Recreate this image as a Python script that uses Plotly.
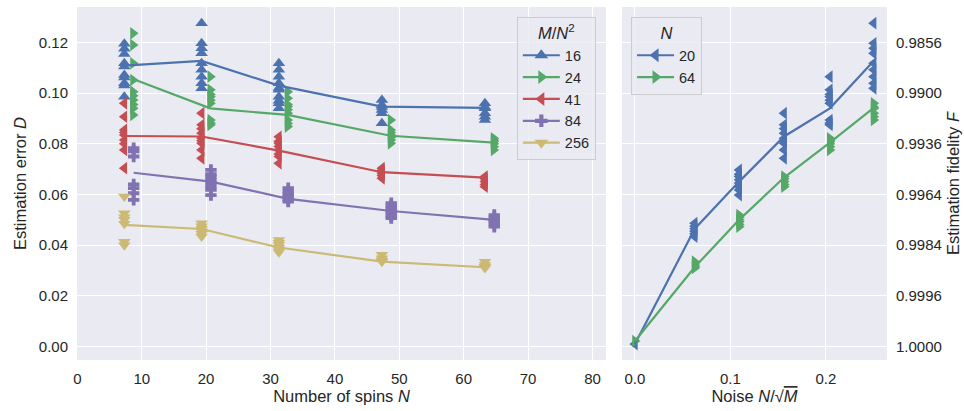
import plotly.graph_objects as go

# ---------------- data ----------------
N_values = [8, 20, 32, 48, 64]
ratio_labels = ["16", "24", "41", "84", "256"]
# noise N/sqrt(M) for M/N^2 = inf, 256, 84, 41, 24, 16
noise_values = [0.0, 0.0625, 0.1091, 0.1562, 0.2041, 0.25]

runs_16 = [
    [0.1195, 0.1175, 0.1155, 0.1118, 0.1105, 0.1072, 0.1062, 0.1039, 0.1030, 0.0986],
    [0.1276, 0.1197, 0.1177, 0.1157, 0.1118, 0.1092, 0.1065, 0.1039, 0.1019],
    [0.1118, 0.1092, 0.1065, 0.1039, 0.1020, 0.1013, 0.0986, 0.0970, 0.0960, 0.0940],
    [0.0973, 0.0953, 0.0945, 0.0934, 0.0921, 0.0881],
    [0.0960, 0.0945, 0.0940, 0.0921, 0.0907, 0.0894],
]
runs_24 = [
    [0.1236, 0.1190, 0.1118, 0.1052, 0.1006, 0.0990, 0.0973, 0.0955, 0.0940, 0.0914],
    [0.1065, 0.1013, 0.0995, 0.0986, 0.0972, 0.0960, 0.0894, 0.0882, 0.0875],
    [0.1006, 0.0980, 0.0955, 0.0947, 0.0935, 0.0921, 0.0894, 0.0880, 0.0868],
    [0.0894, 0.0855, 0.0845, 0.0835, 0.0825, 0.0815, 0.0802],
    [0.0822, 0.0815, 0.0809, 0.0800, 0.0789, 0.0776],
]
runs_41 = [
    [0.0960, 0.0907, 0.0855, 0.0845, 0.0835, 0.0815, 0.0800, 0.0776, 0.0704],
    [0.0921, 0.0875, 0.0860, 0.0842, 0.0822, 0.0812, 0.0802, 0.0776, 0.0743],
    [0.0828, 0.0810, 0.0802, 0.0790, 0.0776, 0.0760, 0.0750, 0.0723],
    [0.0704, 0.0695, 0.0684, 0.0675, 0.0664],
    [0.0671, 0.0662, 0.0651, 0.0640, 0.0631],
]
runs_84 = [
    [0.0783, 0.0770, 0.0750, 0.0640, 0.0625, 0.0605, 0.0579],
    [0.0697, 0.0680, 0.0671, 0.0658, 0.0645, 0.0630, 0.0618, 0.0598],
    [0.0625, 0.0611, 0.0600, 0.0592, 0.0580, 0.0572],
    [0.0566, 0.0555, 0.0546, 0.0536, 0.0526, 0.0515, 0.0507],
    [0.0519, 0.0510, 0.0500, 0.0493, 0.0482, 0.0473],
]
runs_256 = [
    [0.0592, 0.0526, 0.0510, 0.0500, 0.0485, 0.0414, 0.0400],
    [0.0487, 0.0475, 0.0465, 0.0455, 0.0445, 0.0434],
    [0.0421, 0.0410, 0.0401, 0.0390, 0.0381, 0.0372],
    [0.0362, 0.0349, 0.0340, 0.0335],
    [0.0335, 0.0322, 0.0315, 0.0310],
]

mean_16 = [0.1109, 0.1127, 0.1030, 0.0947, 0.0942]
mean_24 = [0.1056, 0.0940, 0.0914, 0.0832, 0.0805]
mean_41 = [0.0831, 0.0829, 0.0773, 0.0688, 0.0667]
mean_84 = [0.0686, 0.0651, 0.0583, 0.0535, 0.0500]
mean_256 = [0.0480, 0.0464, 0.0391, 0.0335, 0.0313]

zero_noise_N20 = 0.0010
zero_noise_N64 = 0.0022

y_ticks = [0.0, 0.02, 0.04, 0.06, 0.08, 0.10, 0.12]
y_tick_labels = ["0.00", "0.02", "0.04", "0.06", "0.08", "0.10", "0.12"]
fidelity_labels = ["1.0000", "0.9996", "0.9984", "0.9964", "0.9936", "0.9900", "0.9856"]
x_ticks_left = [0, 10, 20, 30, 40, 50, 60, 70, 80]
x_ticks_right = [0.0, 0.1, 0.2]
x_tick_labels_right = ["0.0", "0.1", "0.2"]

# ---------------- style ----------------
FONT = "Liberation Sans, Arial, sans-serif"
TXT = "#262626"
BG = "#EAEAF2"
colors = ["#4C72B0", "#55A868", "#C44E52", "#8172B2", "#CCB974"]
symbols = ["triangle-up", "triangle-right", "triangle-left", "cross", "triangle-down"]
msizes = [11, 11, 11, 9.5, 11]
offsets = [-0.7, 0.65, -0.7, 0.75, -0.7]

all_runs = [runs_16, runs_24, runs_41, runs_84, runs_256]
all_means = [mean_16, mean_24, mean_41, mean_84, mean_256]

fig = go.Figure()

# left panel scatter of individual runs
for k in range(5):
    xs, ys = [], []
    for i, n in enumerate(N_values):
        for v in all_runs[k][i]:
            xs.append(n + offsets[k])
            ys.append(v)
    fig.add_trace(go.Scatter(x=xs, y=ys, mode="markers", xaxis="x", yaxis="y",
                             marker=dict(symbol=symbols[k], size=msizes[k], color=colors[k],
                                         line=dict(width=0)),
                             showlegend=False, hoverinfo="skip"))

# left panel mean lines
for k in range(5):
    fig.add_trace(go.Scatter(x=[n + offsets[k] for n in N_values], y=all_means[k],
                             mode="lines", xaxis="x", yaxis="y",
                             line=dict(color=colors[k], width=2.2),
                             showlegend=False, hoverinfo="skip"))

# left legend entries
for k in range(5):
    fig.add_trace(go.Scatter(x=[None], y=[None], mode="lines+markers", xaxis="x", yaxis="y",
                             name=ratio_labels[k], legend="legend",
                             line=dict(color=colors[k], width=2.2),
                             marker=dict(symbol=symbols[k], size=msizes[k] + 1, color=colors[k],
                                         line=dict(width=0))))

# right panel: order of noise values -> [inf, 256, 84, 41, 24, 16]
order = [4, 3, 2, 1, 0]
right_sets = [(1, zero_noise_N20, colors[0], "triangle-left", "20"),
              (4, zero_noise_N64, colors[1], "triangle-right", "64")]
for idx, zero_val, col, sym, lab in right_sets:
    xs, ys = [noise_values[0]], [zero_val]
    for j, k in enumerate(order):
        for v in all_runs[k][idx]:
            xs.append(noise_values[j + 1])
            ys.append(v)
    fig.add_trace(go.Scatter(x=xs, y=ys, mode="markers", xaxis="x2", yaxis="y2",
                             marker=dict(symbol=sym, size=11, color=col, line=dict(width=0)),
                             showlegend=False, hoverinfo="skip"))
for idx, zero_val, col, sym, lab in right_sets:
    my = [zero_val] + [all_means[k][idx] for k in order]
    fig.add_trace(go.Scatter(x=noise_values, y=my, mode="lines", xaxis="x2", yaxis="y2",
                             line=dict(color=col, width=2.2), showlegend=False, hoverinfo="skip"))
for idx, zero_val, col, sym, lab in right_sets:
    fig.add_trace(go.Scatter(x=[None], y=[None], mode="lines+markers", xaxis="x2", yaxis="y2",
                             name=lab, legend="legend2",
                             line=dict(color=col, width=2.2),
                             marker=dict(symbol=sym, size=12, color=col, line=dict(width=0))))

axis_common = dict(showgrid=True, gridcolor="white", gridwidth=1.3, zeroline=False,
                   showline=False, ticks="outside", ticklen=5, tickcolor="rgba(0,0,0,0)",
                   tickfont=dict(family=FONT, size=15, color=TXT), automargin=False)

yrange = [-0.0053, 0.134]

fig.update_layout(
    width=964, height=411,
    margin=dict(l=77, r=77, t=7, b=51),
    paper_bgcolor="white", plot_bgcolor=BG,
    font=dict(family=FONT, size=15, color=TXT),
    xaxis=dict(domain=[0, 0.6531], range=[-0.05, 82.1], tickvals=x_ticks_left,
               title=dict(text="Number of spins <i>N</i>", font=dict(size=16.5), standoff=4),
               anchor="y", **axis_common),
    yaxis=dict(domain=[0, 1], range=yrange, tickvals=y_ticks, ticktext=y_tick_labels,
               title=dict(text="Estimation error <i>D</i>", font=dict(size=16.5), standoff=8),
               anchor="x", **axis_common),
    xaxis2=dict(domain=[0.6728, 1], range=[-0.0136, 0.264], tickvals=x_ticks_right,
                ticktext=x_tick_labels_right,
                title=dict(text="Noise <i>N</i>/√<span style='text-decoration:overline'><i>M</i></span>",
                           font=dict(size=16.5), standoff=4),
                anchor="y2", **axis_common),
    yaxis2=dict(domain=[0, 1], range=yrange, tickvals=y_ticks, ticktext=fidelity_labels,
                side="right", anchor="x2", matches="y",
                title=dict(text="Estimation fidelity <i>F</i>", font=dict(size=16.5), standoff=6),
                **axis_common),
    legend=dict(x=0.543, y=0.972, xanchor="left", yanchor="top",
                bgcolor="rgba(234,234,242,0.8)", bordercolor="#CCCCCC", borderwidth=1,
                font=dict(family=FONT, size=14.5, color=TXT),
                title=dict(text="<i>M</i>/<i>N</i><sup>2</sup>", side="top center",
                           font=dict(family=FONT, size=16.5, color=TXT)),
                tracegroupgap=0, itemwidth=37),
    legend2=dict(x=0.684, y=0.972, xanchor="left", yanchor="top",
                 bgcolor="rgba(234,234,242,0.8)", bordercolor="#CCCCCC", borderwidth=1,
                 font=dict(family=FONT, size=14.5, color=TXT),
                 title=dict(text="<i>N</i>", side="top center",
                            font=dict(family=FONT, size=16.5, color=TXT)),
                 tracegroupgap=0, itemwidth=37),
)

fig.write_html("out.html")
